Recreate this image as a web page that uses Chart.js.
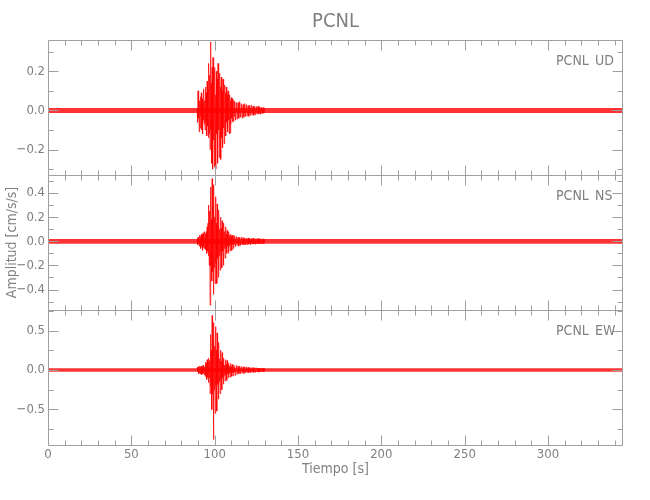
<!DOCTYPE html>
<html>
<head>
<meta charset="utf-8">
<script src="https://cdn.jsdelivr.net/npm/chart.js@4.4.1/dist/chart.umd.min.js"></script>
<style>
  body { margin: 0; background: #fff; }
  #wrap { position: relative; width: 650px; height: 500px; }
  canvas { position: absolute; left: 0; }
</style>
</head>
<body>
<div id="wrap">
  <canvas id="ud" width="650" height="176" style="top:0"></canvas>
  <canvas id="ns" width="650" height="136" style="top:175px"></canvas>
  <canvas id="ew" width="650" height="190" style="top:310px"></canvas>
</div>
<script>
// station / components
const station = "PCNL";
const components = ["UD", "NS", "EW"];
const recordEnd = 345; // s

// strong-motion part, one sample every 0.25 s from 89.5 s
const strongStart = 89.5;
const strongStep = 0.25;
// coda, one sample every 0.5 s from 112.5 s
const codaStart = 112.5;
const codaStep = 0.5;

const udStrong = [
  0.01, -0.06, 0.10, -0.04, 0.08, -0.11, 0.05, -0.09, 0.07, -0.03,
  0.09, -0.10, 0.06, -0.12, 0.04, -0.05, 0.11, -0.07, 0.05, -0.10,
  0.12, -0.06, 0.09, -0.13, 0.15, -0.08, 0.11, -0.14, 0.24, -0.12,
  0.18, -0.20, 0.35, -0.10, 0.14, -0.27, 0.22, -0.30, 0.27, -0.15,
  0.12, -0.29, 0.22, -0.18, 0.08, -0.30, 0.20, -0.12, 0.16, -0.27,
  0.24, -0.10, 0.13, -0.24, 0.19, -0.08, 0.12, -0.25, 0.17, -0.14,
  0.10, -0.19, 0.16, -0.09, 0.12, -0.17, 0.13, -0.07, 0.09, -0.13,
  0.12, -0.06, 0.08, -0.11, 0.10, -0.05, 0.07, -0.12, 0.08, -0.115,
  0.05, -0.07, 0.065, -0.04, 0.06, -0.06, 0.04, -0.055, 0.05, -0.03,
  0.045
];
const udCoda = [
  -0.05, 0.04, -0.045, 0.04, -0.04, 0.045, -0.035, 0.035, -0.04, 0.03,
  -0.035, 0.035, -0.03, 0.03, -0.03, 0.025, -0.03, 0.025, -0.025, 0.028,
  -0.025, 0.022, -0.025, 0.02, -0.022, 0.02, -0.02, 0.022, -0.018, 0.018,
  -0.02, 0.016, -0.017, 0.015, -0.014, 0.012
];

const nsStrong = [
  0.02, -0.03, 0.035, -0.02, 0.03, -0.04, 0.05, -0.03, 0.04, -0.06,
  0.06, -0.04, 0.05, -0.075, 0.07, -0.05, 0.04, -0.06, 0.08, -0.05,
  0.06, -0.07, 0.08, -0.10, 0.12, -0.08, 0.15, -0.12, 0.30, -0.20,
  0.25, -0.53, 0.45, -0.20, 0.18, -0.33, 0.52, -0.25, 0.30, -0.44,
  0.47, -0.22, 0.20, -0.35, 0.37, -0.18, 0.15, -0.35, 0.31, -0.14,
  0.12, -0.30, 0.26, -0.12, 0.10, -0.24, 0.20, -0.09, 0.11, -0.22,
  0.17, -0.08, 0.07, -0.20, 0.15, -0.06, 0.08, -0.14, 0.12, -0.05,
  0.06, -0.10, 0.09, -0.04, 0.05, -0.10, 0.08, -0.04, 0.05, -0.08,
  0.06, -0.03, 0.04, -0.075, 0.05, -0.03, 0.03, -0.06, 0.05, -0.025,
  0.04
];
const nsCoda = [
  -0.045, 0.04, -0.035, 0.035, -0.04, 0.03, -0.035, 0.035, -0.03, 0.03,
  -0.03, 0.028, -0.03, 0.025, -0.03, 0.028, -0.025, 0.025, -0.028, 0.025,
  -0.024, 0.025, -0.022, 0.024, -0.025, 0.022, -0.022, 0.024, -0.02, 0.022,
  -0.022, 0.02, -0.02, 0.02, -0.018, 0.018
];

const ewStrong = [
  0.03, -0.02, 0.04, -0.05, 0.03, -0.04, 0.05, -0.03, 0.04, -0.05,
  0.05, -0.06, 0.04, -0.05, 0.06, -0.04, 0.05, -0.06, 0.04, -0.08,
  0.10, -0.06, 0.08, -0.12, 0.13, -0.09, 0.10, -0.16, 0.15, -0.10,
  0.12, -0.30, 0.45, -0.20, 0.25, -0.50, 0.69, -0.30, 0.40, -0.88,
  0.60, -0.25, 0.30, -0.55, 0.55, -0.20, 0.25, -0.52, 0.47, -0.18,
  0.20, -0.37, 0.35, -0.15, 0.14, -0.30, 0.25, -0.12, 0.11, -0.25,
  0.22, -0.10, 0.08, -0.18, 0.15, -0.07, 0.06, -0.14, 0.13, -0.06,
  0.07, -0.13, 0.12, -0.05, 0.06, -0.10, 0.09, -0.04, 0.05, -0.09,
  0.08, -0.04, 0.04, -0.08, 0.07, -0.035, 0.04, -0.075, 0.06, -0.03,
  0.035
];
const ewCoda = [
  -0.07, 0.06, -0.055, 0.05, -0.05, 0.045, -0.05, 0.045, -0.04, 0.04,
  -0.045, 0.04, -0.035, 0.04, -0.035, 0.035, -0.035, 0.03, -0.035, 0.03,
  -0.03, 0.03, -0.03, 0.028, -0.03, 0.028, -0.025, 0.025, -0.028, 0.025,
  -0.025, 0.025, -0.022, 0.024, -0.022, 0.022
];

// background noise half-width of each trace
const noiseLevel = [0.013, 0.02, 0.022];

// axes
const yMin = [-0.33, -0.57, -0.95];
const yMax = [0.36, 0.55, 0.76];
const yStep = [0.2, 0.2, 0.5];
const xStep = 50;
const xMinorStep = 10;

const textColor = "#808080";
const axisColor = "#a0a0a0";
Chart.defaults.font.family = "'Liberation Sans Narrow', 'DejaVu Sans Condensed', 'Liberation Sans', sans-serif";
Chart.defaults.color = textColor;

// box with inward ticks + station label
const frame = {
  id: "frame",
  afterDraw(chart) {
    const { ctx, chartArea: a } = chart;
    const x = chart.scales.x, y = chart.scales.y;
    const L = Math.round(a.left) + 0.5, R = Math.round(a.right) - 0.5;
    const T = Math.round(a.top) + 0.5, B = Math.round(a.bottom) + 0.5;
    ctx.save();
    ctx.strokeStyle = axisColor;
    ctx.lineWidth = 1;
    ctx.beginPath();
    ctx.rect(L, T, R - L, B - T);
    for (let v = 0; v <= x.max; v += xMinorStep) {
      const px = Math.round(x.getPixelForValue(v)) + 0.5;
      const len = v % xStep === 0 ? 10 : 5;
      ctx.moveTo(px, T); ctx.lineTo(px, T + len);
      ctx.moveTo(px, B); ctx.lineTo(px, B - len);
    }
    const ys = y.options.ticks.stepSize / 2;
    for (let k = Math.ceil(y.min / ys); k * ys <= y.max; k++) {
      const py = Math.round(y.getPixelForValue(k * ys)) + 0.5;
      const len = k % 2 === 0 ? 10 : 5;
      ctx.moveTo(L, py); ctx.lineTo(L + len, py);
      ctx.moveTo(R, py); ctx.lineTo(R - len, py);
    }
    ctx.stroke();

    const opt = chart.options.plugins.frame;
    ctx.fillStyle = textColor;
    ctx.font = "14px " + Chart.defaults.font.family;
    ctx.textBaseline = "middle";
    ctx.textAlign = "left";
    ctx.fillText(station, a.right - 67, a.top + 21);
    ctx.fillText(opt.comp, a.right - 28, a.top + 21);
    ctx.restore();
  }
};

function makeChart(id, i, strong, coda, extra) {
  const trace = strong.map((v, k) => ({ x: strongStart + k * strongStep, y: v }))
    .concat(coda.map((v, k) => ({ x: codaStart + k * codaStep, y: v })));
  const n = noiseLevel[i];
  return new Chart(document.getElementById(id), {
    type: "line",
    data: {
      datasets: [
        {
          data: [{ x: 0, y: n }, { x: recordEnd, y: n }],
          borderWidth: 0, pointRadius: 0, fill: false
        },
        {
          data: [{ x: 0, y: -n }, { x: recordEnd, y: -n }],
          borderWidth: 0, pointRadius: 0, fill: "-1",
          backgroundColor: "rgba(255, 0, 0, 0.8)"
        },
        {
          data: trace,
          borderColor: "rgba(255, 0, 0, 0.75)",
          borderWidth: 1,
          pointRadius: 0,
          tension: 0,
          fill: false
        }
      ]
    },
    options: {
      responsive: false,
      animation: false,
      events: [],
      layout: { padding: { left: 0, right: 27, top: 0, bottom: extra.padBottom } },
      plugins: {
        legend: { display: false },
        tooltip: { enabled: false },
        title: extra.title || { display: false },
        frame: { comp: components[i] }
      },
      scales: {
        x: Object.assign({
          type: "linear",
          min: 0,
          max: recordEnd,
          display: false
        }, extra.x || {}),
        y: {
          type: "linear",
          min: yMin[i],
          max: yMax[i],
          grid: { display: false, drawTicks: false },
          border: { display: false },
          ticks: {
            stepSize: yStep[i],
            includeBounds: false,
            padding: 3,
            font: { size: 13 },
            callback: (v) => v.toFixed(1).replace("-", "\u2212")
          },
          title: extra.yTitle || { display: false },
          afterFit: (s) => { s.width = 48; s.paddingTop = 0; s.paddingBottom = 0; }
        }
      }
    },
    plugins: [frame]
  });
}

makeChart("ud", 0, udStrong, udCoda, {
  padBottom: 1,
  title: {
    display: true,
    text: station,
    fullSize: false,
    color: textColor,
    font: { size: 20, weight: "normal" },
    padding: { top: 10, bottom: 6 }
  }
});

makeChart("ns", 1, nsStrong, nsCoda, {
  padBottom: 1,
  yTitle: { display: true, text: "Amplitud [cm/s/s]", font: { size: 14 }, color: textColor }
});

makeChart("ew", 2, ewStrong, ewCoda, {
  padBottom: 18,
  x: {
    display: true,
    grid: { display: false, drawTicks: false },
    border: { display: false },
    ticks: { stepSize: xStep, includeBounds: false, maxRotation: 0, padding: 2, font: { size: 13 } },
    title: { display: true, text: "Tiempo [s]", font: { size: 14 }, color: textColor },
    afterFit: (s) => { s.height = 37; s.paddingLeft = 0; s.paddingRight = 0; }
  }
});
</script>
</body>
</html>
